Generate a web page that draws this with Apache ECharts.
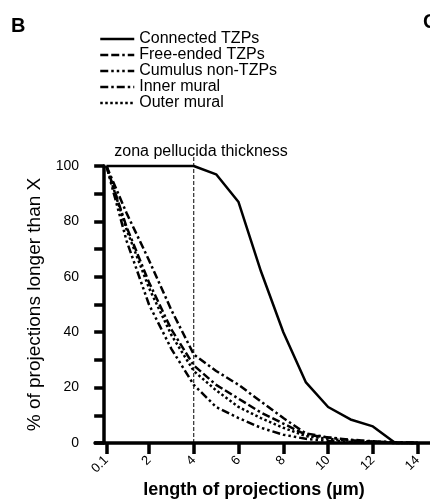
<!DOCTYPE html>
<html>
<head>
<meta charset="utf-8">
<script src="https://cdn.jsdelivr.net/npm/echarts@6/dist/echarts.min.js"></script>
<style>
  html, body { margin: 0; padding: 0; background: #fff; }
  #chart { width: 430px; height: 502px; }
</style>
</head>
<body>
<div id="chart"></div>
<script>
  // length of projections (µm) and % of projections longer than X
  var lengths = [0.1, 1, 2, 3, 4, 5, 6, 7, 8, 9, 10, 11, 12, 13, 14];
  var connected = [100, 100, 100, 100, 100, 97, 87, 62, 40, 22, 13, 8.5, 6, 0, 0];
  var freeEnded = [100, 78, 58, 41, 28, 21, 16, 11, 7, 3, 2, 1, 0.5, 0.2, 0];
  var cumulus = [100, 73, 50, 34, 21, 13, 9, 5.5, 3, 1.5, 0.8, 0.4, 0.2, 0, 0];
  var innerMural = [100, 83, 66, 48, 32, 26, 21, 15, 9, 3.5, 2, 1.2, 0.6, 0.3, 0];
  var outerMural = [100, 77, 56, 39, 26, 19, 13, 9, 5.5, 2.5, 1.5, 0.8, 0.4, 0, 0];
  var xTicks = [0.1, 2, 4, 6, 8, 10, 12, 14];
  // zona pellucida thickness marker
  var zonaX = [4, 4];
  var zonaY = [0, 104.5];

  var font = "'Liberation Sans', Arial, sans-serif";

  function curve(name, values, dash) {
    return {
      name: name,
      type: "line",
      symbol: "none",
      clip: false,
      data: lengths.map(function (x, i) { return [x, values[i]]; }),
      lineStyle: { color: "#000", width: 2.5, type: dash },
      itemStyle: { color: "#000" }
    };
  }

  var chart = echarts.init(document.getElementById("chart"));
  var option = {
    animation: false,
    textStyle: { fontFamily: font, color: "#000" },
    legend: {
      orient: "vertical",
      left: 99,
      top: 31,
      padding: 0,
      itemWidth: 34,
      itemHeight: 10,
      itemGap: 0,
      itemStyle: { opacity: 0 },
      lineStyle: { width: 2.5 },
      textStyle: { fontSize: 16, lineHeight: 15, color: "#000", fontFamily: font },
      data: ["Connected TZPs", "Free-ended TZPs", "Cumulus non-TZPs", "Inner mural", "Outer mural"]
    },
    grid: { left: 95, top: 166, width: 335, height: 277, outerBoundsMode: "none" },
    xAxis: {
      type: "value",
      min: -0.41,
      max: 14.55,
      axisLine: { show: true, lineStyle: { color: "#000", width: 3.5 } },
      axisTick: { show: true, customValues: xTicks, length: 11, lineStyle: { color: "#000", width: 3.5 } },
      axisLabel: {
        customValues: xTicks,
        rotate: 45,
        margin: 15,
        fontSize: 13,
        color: "#000",
        formatter: function (v) { return String(v); }
      },
      splitLine: { show: false }
    },
    yAxis: {
      type: "value",
      min: 0,
      max: 100,
      interval: 10,
      name: "% of projections longer than X",
      nameLocation: "middle",
      nameGap: 38,
      nameRotate: 90,
      nameTextStyle: { fontSize: 19, color: "#000", fontFamily: font },
      axisLine: { show: true, lineStyle: { color: "#000", width: 3.5 } },
      axisTick: { show: true, length: 10, lineStyle: { color: "#000", width: 3.5 } },
      axisLabel: {
        margin: 16,
        fontSize: 14,
        color: "#000",
        formatter: function (v) { return v % 20 === 0 ? String(v) : ""; }
      },
      splitLine: { show: false }
    },
    graphic: [
      { type: "text", left: 11, top: 16, style: { text: "B", fontSize: 20, fontWeight: "bold", fill: "#000", fontFamily: font } },
      { type: "text", left: 423, top: 12, style: { text: "C", fontSize: 20, fontWeight: "bold", fill: "#000", fontFamily: font } },
      { type: "text", x: 201, y: 152, style: { text: "zona pellucida thickness", fontSize: 16, fill: "#000", fontFamily: font, textAlign: "center", textVerticalAlign: "middle" } },
      { type: "text", x: 254, y: 490, style: { text: "length of projections (µm)", fontSize: 18, fontWeight: "bold", fill: "#000", fontFamily: font, textAlign: "center", textVerticalAlign: "middle" } }
    ],
    series: [
      curve("Connected TZPs", connected, "solid"),
      curve("Free-ended TZPs", freeEnded, [8, 3, 8, 3, 2.5, 3]),
      curve("Cumulus non-TZPs", cumulus, [8, 3, 2.5, 3, 2.5, 3, 2.5, 3]),
      curve("Inner mural", innerMural, [8, 3, 2.5, 3]),
      curve("Outer mural", outerMural, [2.5, 2.5]),
      {
        name: "zona",
        type: "line",
        symbol: "none",
        clip: false,
        silent: true,
        data: zonaX.map(function (x, i) { return [x, zonaY[i]]; }),
        lineStyle: { color: "#000", width: 1, type: [4, 2] }
      }
    ]
  };
  chart.setOption(option);
</script>
</body>
</html>
